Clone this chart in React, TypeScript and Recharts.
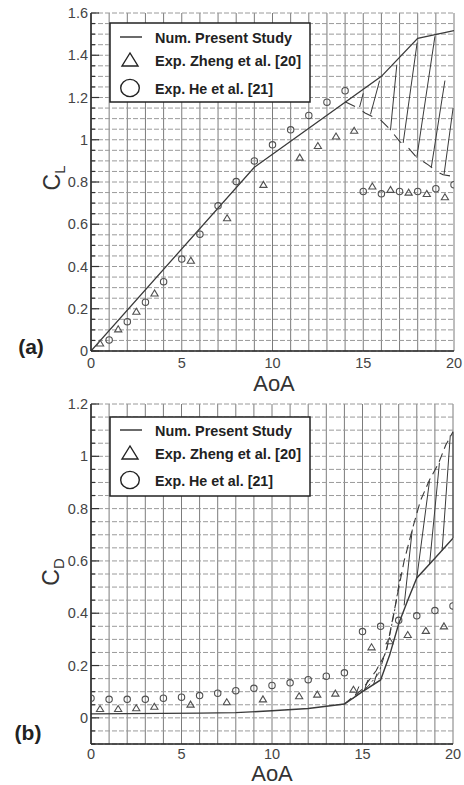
import { ComposedChart, Line, Scatter, XAxis, YAxis, CartesianGrid, ReferenceLine } from 'recharts';

// tick labels
const aoaLabels = [0, 5, 10, 15, 20];
const clLabels = [0, 0.2, 0.4, 0.6, 0.8, 1, 1.2, 1.4, 1.6];
const cdLabels = [0, 0.2, 0.4, 0.6, 0.8, 1, 1.2];

// (a) lift coefficient
const clNumAoa = [0, 9, 16, 18, 20];
const clNum = [0, 0.87, 1.3, 1.48, 1.517];
const clLowAoa = [14.0, 14.6, 15.1, 15.5, 15.9, 16.5, 17.0, 17.5, 17.9, 18.6, 19.05, 19.4, 20];
const clLow = [1.18, 1.155, 1.127, 1.11, 1.098, 1.047, 0.992, 0.96, 0.92, 0.88, 0.85, 0.834, 0.826];
const clZhengAoa = [0.5, 1.5, 2.5, 3.5, 5.5, 7.5, 9.5, 11.5, 12.5, 13.5, 14.5, 15.5, 16.5, 17.5, 18.5, 19.5];
const clZheng = [0.036, 0.103, 0.186, 0.273, 0.428, 0.629, 0.787, 0.916, 0.971, 1.016, 1.043, 0.779, 0.763, 0.75, 0.744, 0.728];
const clHeAoa = [1, 2, 3, 4, 5, 6, 7, 8, 9, 10, 11, 12, 13, 14, 15, 16, 17, 18, 19, 20];
const clHe = [0.052, 0.139, 0.231, 0.328, 0.435, 0.553, 0.687, 0.802, 0.9, 0.976, 1.047, 1.115, 1.178, 1.232, 0.755, 0.744, 0.755, 0.755, 0.768, 0.787];
// hatch strokes: [aoa1, cl1, aoa2, cl2]
const clHatch = [
  [14.8, 1.155, 15.0, 1.22],
  [15.4, 1.12, 15.9, 1.28],
  [16.5, 1.045, 16.85, 1.355],
  [17.2, 0.985, 17.97, 1.46],
  [17.95, 0.915, 18.95, 1.49],
  [18.75, 0.87, 19.5, 1.28],
  [19.45, 0.835, 19.95, 1.15],
];

// (b) drag coefficient
const cdNumAoa = [0, 2, 4, 6, 8, 10, 12, 14, 15, 16, 16.5, 17, 17.5, 18, 19, 20];
const cdNum = [0.015, 0.016, 0.017, 0.018, 0.02, 0.027, 0.036, 0.053, 0.1, 0.145, 0.24, 0.36, 0.45, 0.535, 0.61, 0.687];
const cdUpAoa = [14, 15, 15.75, 16.3, 16.9, 17.3, 17.75, 18.2, 18.7, 19.2, 19.6, 20];
const cdUp = [0.053, 0.11, 0.18, 0.25, 0.46, 0.6, 0.72, 0.83, 0.909, 0.973, 1.043, 1.094];
const cdMidAoa = [14.5, 15.3, 15.9, 16.4, 16.8, 17.1];
const cdMid = [0.075, 0.12, 0.17, 0.28, 0.42, 0.55];
const cdZhengAoa = [0.5, 1.5, 2.5, 3.5, 5.5, 7.5, 9.5, 11.5, 12.5, 13.5, 14.5, 15.5, 16.5, 17.5, 18.5, 19.5];
const cdZheng = [0.034, 0.034, 0.037, 0.043, 0.051, 0.06, 0.071, 0.083, 0.089, 0.093, 0.108, 0.27, 0.293, 0.317, 0.333, 0.35];
const cdHeAoa = [0, 1, 2, 3, 4, 5, 6, 7, 8, 9, 10, 11, 12, 13, 14, 15, 16, 17, 18, 19, 20];
const cdHe = [0.075, 0.071, 0.071, 0.071, 0.075, 0.079, 0.085, 0.094, 0.104, 0.113, 0.124, 0.134, 0.146, 0.159, 0.172, 0.33, 0.35, 0.373, 0.39, 0.41, 0.428];
const cdHatch = [
  [14.6, 0.085, 14.8, 0.12],
  [15.1, 0.105, 15.3, 0.145],
  [15.6, 0.125, 15.8, 0.17],
  [17.3, 0.43, 17.75, 0.72],
  [18.0, 0.535, 18.7, 0.905],
  [18.7, 0.585, 19.25, 0.975],
  [19.4, 0.64, 19.85, 1.08],
  [20, 0.687, 20, 1.094],
];

const pts = (xs: number[], ys: number[]) => xs.map((x, i) => ({ x, y: ys[i] }));
const steps = (lo: number, hi: number, step: number) => {
  const out: number[] = [];
  for (let i = 0; lo + i * step <= hi + 1e-9; i++) out.push(Math.round((lo + i * step) * 1000) / 1000);
  return out;
};

const INK = '#3a3a3a';
const MARK = '#505050';
const FONT = "'Liberation Sans', Arial, sans-serif";

const fmt = (v: number) => (v === 0 ? '0' : v === 1 ? '1' : v.toFixed(1));

function makeYTick(labels: number[]) {
  return (props: any) => {
    const { x, y, payload } = props;
    const v = payload.value;
    const major = labels.some((l) => Math.abs(l - v) < 1e-6);
    return (
      <g>
        <line x1={x + 3} x2={x + 3 + (major ? 8 : 4)} y1={y} y2={y} stroke="#333" strokeWidth={1.2} />
        {major && (
          <text x={x} y={y} dy={5} textAnchor="end" fontSize={14.5} fill="#444" fontFamily={FONT}>
            {fmt(v)}
          </text>
        )}
      </g>
    );
  };
}

function makeXTick(offset: number) {
  return (props: any) => {
    const { x, y, payload } = props;
    if (!aoaLabels.includes(payload.value)) return <g />;
    return (
      <text x={x} y={y + offset} textAnchor="middle" fontSize={14.5} fill="#444" fontFamily={FONT}>
        {payload.value}
      </text>
    );
  };
}

const circleShape = (p: any) => <circle cx={p.cx} cy={p.cy} r={3.2} fill="none" stroke={MARK} strokeWidth={1.1} />;
const triangleShape = (p: any) => (
  <polygon
    points={`${p.cx},${p.cy - 3.4} ${p.cx - 3.6},${p.cy + 2.6} ${p.cx + 3.6},${p.cy + 2.6}`}
    fill="none"
    stroke={MARK}
    strokeWidth={1.1}
  />
);

function Grid() {
  return (
    <>
      <CartesianGrid horizontal={false} stroke="#7c7c7c" strokeWidth={1} />
      <CartesianGrid vertical={false} stroke="#9a9a9a" strokeWidth={1} strokeDasharray="5 2" />
    </>
  );
}

function LiftChart() {
  return (
    <ComposedChart width={464} height={392} margin={{ top: 13, right: 10, bottom: 0, left: 0 }}>
      {Grid()}
      <XAxis
        type="number"
        dataKey="x"
        domain={[0, 20]}
        ticks={steps(0, 20, 1)}
        interval={0}
        allowDataOverflow
        height={41}
        tickSize={0}
        tickMargin={0}
        tick={makeXTick(17)}
        axisLine={{ stroke: '#222', strokeWidth: 1.5 }}
      />
      <YAxis
        type="number"
        dataKey="y"
        domain={[0, 1.6]}
        ticks={steps(0, 1.6, 0.05)}
        interval={0}
        allowDataOverflow
        width={91}
        tickSize={0}
        tickMargin={3}
        tick={makeYTick(clLabels)}
        axisLine={{ stroke: '#222', strokeWidth: 1.5 }}
      />
      <Line data={pts(clNumAoa, clNum)} dataKey="y" stroke={INK} strokeWidth={1.3} dot={false} isAnimationActive={false} />
      <Line
        data={pts(clLowAoa, clLow)}
        dataKey="y"
        stroke={INK}
        strokeWidth={1.1}
        strokeDasharray="11 9"
        dot={false}
        isAnimationActive={false}
      />
      {clHatch.map((h, i) => (
        <ReferenceLine
          key={i}
          segment={[{ x: h[0], y: h[1] }, { x: h[2], y: h[3] }]}
          stroke={INK}
          strokeWidth={1}
          ifOverflow="visible"
        />
      ))}
      <Scatter data={pts(clZhengAoa, clZheng)} dataKey="y" shape={triangleShape} isAnimationActive={false} />
      <Scatter data={pts(clHeAoa, clHe)} dataKey="y" shape={circleShape} isAnimationActive={false} />
    </ComposedChart>
  );
}

function DragChart() {
  return (
    <ComposedChart width={464} height={393} margin={{ top: 12, right: 11, bottom: 0, left: 0 }}>
      {Grid()}
      <XAxis
        type="number"
        dataKey="x"
        domain={[0, 20]}
        ticks={steps(0, 20, 1)}
        interval={0}
        allowDataOverflow
        height={41}
        tickSize={0}
        tickMargin={0}
        tick={makeXTick(15)}
        axisLine={{ stroke: '#222', strokeWidth: 1.5 }}
      />
      <YAxis
        type="number"
        dataKey="y"
        domain={[-0.1, 1.2]}
        ticks={steps(-0.1, 1.2, 0.05)}
        interval={0}
        allowDataOverflow
        width={91}
        tickSize={0}
        tickMargin={3}
        tick={makeYTick(cdLabels)}
        axisLine={{ stroke: '#222', strokeWidth: 1.5 }}
      />
      <Line data={pts(cdNumAoa, cdNum)} dataKey="y" stroke={INK} strokeWidth={1.4} dot={false} isAnimationActive={false} />
      <Line
        data={pts(cdUpAoa, cdUp)}
        dataKey="y"
        stroke={INK}
        strokeWidth={1.1}
        strokeDasharray="9 5"
        dot={false}
        isAnimationActive={false}
      />
      <Line
        data={pts(cdMidAoa, cdMid)}
        dataKey="y"
        stroke={INK}
        strokeWidth={1}
        strokeDasharray="7 3 2 3"
        dot={false}
        isAnimationActive={false}
      />
      {cdHatch.map((h, i) => (
        <ReferenceLine
          key={i}
          segment={[{ x: h[0], y: h[1] }, { x: h[2], y: h[3] }]}
          stroke={INK}
          strokeWidth={1}
          ifOverflow="visible"
        />
      ))}
      <Scatter data={pts(cdZhengAoa, cdZheng)} dataKey="y" shape={triangleShape} isAnimationActive={false} />
      <Scatter data={pts(cdHeAoa, cdHe)} dataKey="y" shape={circleShape} isAnimationActive={false} />
    </ComposedChart>
  );
}

const legendItems = ['Num. Present Study', 'Exp. Zheng et al. [20]', 'Exp. He et al. [21]'];

function LegendBox({ left, top, rows }: { left: number; top: number; rows: number[] }) {
  const sx = left + 20;
  return (
    <g>
      <rect x={left} y={top} width={200} height={79} fill="#fff" stroke="#222" strokeWidth={1.5} />
      <line x1={sx - 10} x2={sx + 12} y1={top + rows[0]} y2={top + rows[0]} stroke={INK} strokeWidth={1.5} />
      <polygon
        points={`${sx},${top + rows[1] - 7} ${sx - 8},${top + rows[1] + 6} ${sx + 8},${top + rows[1] + 6}`}
        fill="none"
        stroke="#222"
        strokeWidth={1.4}
      />
      <ellipse cx={sx} cy={top + rows[2]} rx={9.3} ry={8.6} fill="none" stroke="#222" strokeWidth={1.4} />
      {legendItems.map((t, i) => (
        <text
          key={t}
          x={left + 45}
          y={top + rows[i] + 5.5}
          fontSize={15}
          fontWeight="bold"
          fill="#222"
          textLength={i === 0 ? 137 : i === 1 ? 146 : 118}
          lengthAdjust="spacingAndGlyphs"
          fontFamily={FONT}
        >
          {t}
        </text>
      ))}
    </g>
  );
}

function Overlay() {
  return (
    <svg width={464} height={785} style={{ position: 'absolute', left: 0, top: 0, pointerEvents: 'none' }}>
      <LegendBox left={110} top={23} rows={[14, 37, 65]} />
      <LegendBox left={110} top={417} rows={[13, 36, 63]} />
      <text x={60} y={178} transform="rotate(-90 60 178)" textAnchor="middle" fontSize={23} fill="#333" fontFamily={FONT}>
        C<tspan fontSize={15} dy={5}>L</tspan>
      </text>
      <text x={59} y={572} transform="rotate(-90 59 572)" textAnchor="middle" fontSize={23} fill="#333" fontFamily={FONT}>
        C<tspan fontSize={15} dy={5}>D</tspan>
      </text>
      <text x={274} y={391} textAnchor="middle" fontSize={22} fill="#333" fontFamily={FONT}>
        AoA
      </text>
      <text x={272} y={781} textAnchor="middle" fontSize={22} fill="#333" fontFamily={FONT}>
        AoA
      </text>
      <text x={31} y={354} textAnchor="middle" fontSize={21} fontWeight="bold" fill="#222" fontFamily={FONT}>
        (a)
      </text>
      <text x={28} y={740} textAnchor="middle" fontSize={21} fontWeight="bold" fill="#222" fontFamily={FONT}>
        (b)
      </text>
    </svg>
  );
}

export default function App() {
  return (
    <div style={{ position: 'absolute', left: 0, top: 0, width: 464, height: 785, background: '#fff' }}>
      <div style={{ position: 'absolute', left: 0, top: 0 }}>
        <LiftChart />
      </div>
      <div style={{ position: 'absolute', left: 0, top: 392 }}>
        <DragChart />
      </div>
      <Overlay />
    </div>
  );
}
